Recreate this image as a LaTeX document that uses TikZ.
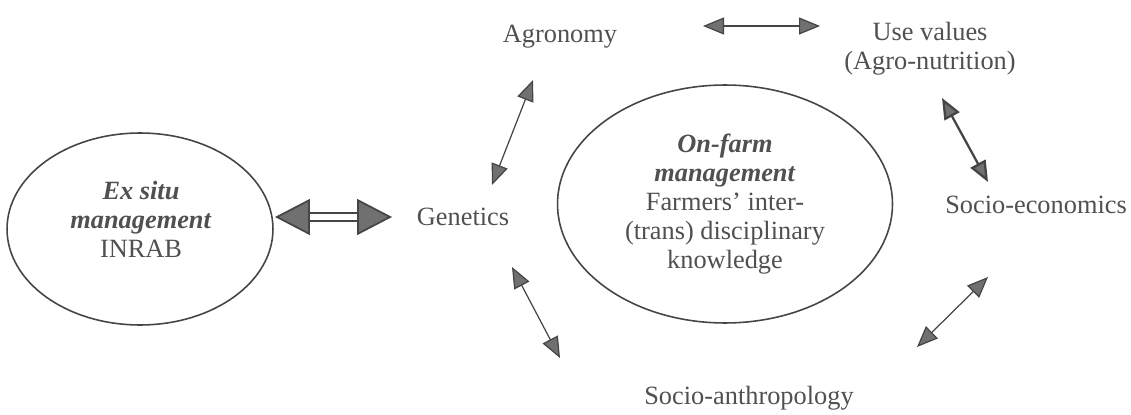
\documentclass[tikz,border=0pt]{standalone}
\usepackage{fontspec}
\setmainfont{Liberation Serif}
\usetikzlibrary{positioning,arrows.meta,shapes.geometric,calc}
\definecolor{inkgray}{HTML}{454545}
\definecolor{tipgray}{HTML}{707070}
\definecolor{textgray}{HTML}{505050}

\begin{document}
\begin{tikzpicture}[x=0.02cm,y=-0.02cm,
    lbl/.style={font=\fontsize{15}{16.5}\selectfont, text=textgray, align=center, inner sep=1pt},
    region/.style={ellipse, draw=inkgray, line width=0.9pt, lbl},
    link/.style={draw=inkgray, line width=0.7pt,
        {Triangle[length=0.42cm,width=0.34cm,fill=tipgray]}-{Triangle[length=0.42cm,width=0.34cm,fill=tipgray]}},
    bigarrow/.style={draw=inkgray, line width=1pt, double=white, double distance=0.12cm,
        {Triangle[length=0.7cm,width=0.72cm,fill=tipgray]}-{Triangle[length=0.7cm,width=0.72cm,fill=tipgray]}}]
    \useasboundingbox (0,0) rectangle (1131,415);

    % Management regions
    \node[region, minimum width=5.32cm, minimum height=3.84cm] (exsitu) at (140,229) {};
    \node[lbl] (exsitu-text) at (141,219)
        {\textbf{\textit{Ex situ}}\\\textbf{\textit{management}}\\INRAB};
    \node[region, minimum width=6.7cm, minimum height=4.76cm] (onfarm) at (725,204)
        {\textbf{\textit{On-farm}}\\\textbf{\textit{management}}\\Farmers' inter-\\(trans) disciplinary\\knowledge};

    % Disciplines
    \node[lbl] (genetics) at (463,217) {Genetics};
    \node[lbl] (agronomy) at (560,37) {Agronomy};
    \node[lbl] (usevalues) at (930,49) {Use values\\(Agro-nutrition)};
    \node[lbl] (socioeco) at (1036,205) {Socio-economics};
    \node[lbl] (socioanth) at (749,398) {Socio-anthropology};

    % Arrow ends
    \coordinate (exsitu-e) at (275,217);
    \coordinate (genetics-w) at (392,217);
    \coordinate (genetics-n) at (492,185);
    \coordinate (agronomy-s) at (533,80);
    \coordinate (agronomy-e) at (703,26);
    \coordinate (usevalues-w) at (820,26);
    \coordinate (usevalues-s) at (942,98);
    \coordinate (socioeco-n) at (988,182);
    \coordinate (socioeco-s) at (988,277);
    \coordinate (socioanth-e) at (917,347);
    \coordinate (genetics-s) at (512,267);
    \coordinate (socioanth-w) at (560,358);

    % Links
    \draw[bigarrow] (exsitu-e) -- (genetics-w);
    \draw[link] (agronomy-s) -- (genetics-n);
    \draw[link] (agronomy-e) -- (usevalues-w);
    \draw[link, line width=1.3pt] (usevalues-s) -- (socioeco-n);
    \draw[link] (socioeco-s) -- (socioanth-e);
    \draw[link] (genetics-s) -- (socioanth-w);
\end{tikzpicture}
\end{document}
